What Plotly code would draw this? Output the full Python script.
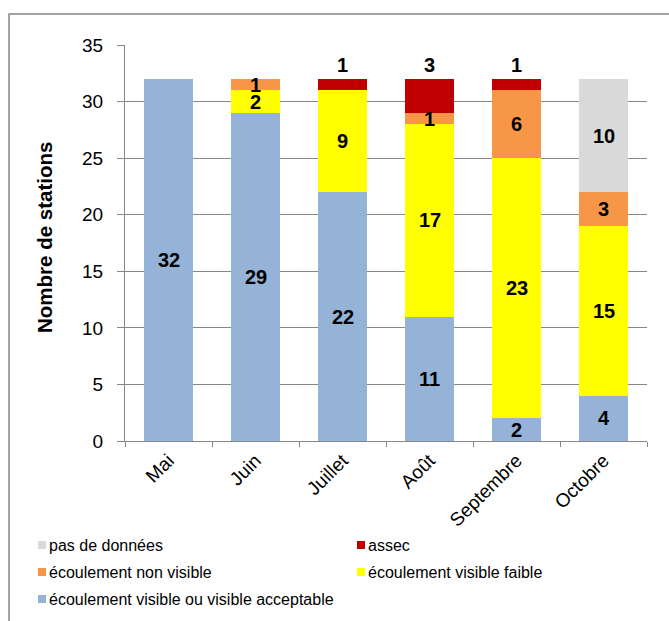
import plotly.graph_objects as go

months = ["Mai", "Juin", "Juillet", "Août", "Septembre", "Octobre"]

visible_acceptable = [32, 29, 22, 11, 2, 4]
visible_faible = [0, 2, 9, 17, 23, 15]
non_visible = [0, 1, 0, 1, 6, 3]
assec = [0, 0, 1, 3, 1, 0]
pas_de_donnees = [0, 0, 0, 0, 0, 10]

series = [
    ("écoulement visible ou visible acceptable", visible_acceptable, "#95B3D7"),
    ("écoulement visible faible", visible_faible, "#FFFF00"),
    ("écoulement non visible", non_visible, "#F79646"),
    ("assec", assec, "#C00000"),
    ("pas de données", pas_de_donnees, "#D9D9D9"),
]

# legend grid: (series name, column, row)
legend_layout = [
    ("pas de données", 0, 0),
    ("assec", 1, 0),
    ("écoulement non visible", 0, 1),
    ("écoulement visible faible", 1, 1),
    ("écoulement visible ou visible acceptable", 0, 2),
]

FONT = "Liberation Sans, Arial, sans-serif"

# plot area geometry in pixels
W, H = 669, 621
L, R, T, B = 125, 22, 45, 180
PW, PH = W - L - R, H - T - B


def px_x(px):
    return (px - L) / PW


def px_y(py):
    return (H - B - py) / PH


fig = go.Figure()
for name, vals, color in series:
    fig.add_trace(go.Bar(
        x=months, y=vals, name=name,
        marker=dict(color=color, line=dict(width=0)),
        width=0.565, showlegend=False,
    ))

# value labels: centred in each segment, "assec" labels sit above the stack
annotations = []
base = [0] * len(months)
totals = [sum(s[1][i] for s in series) for i in range(len(months))]
for name, vals, color in series:
    for i, v in enumerate(vals):
        if v > 0:
            y = totals[i] + 1.2 if name == "assec" else base[i] + v / 2
            annotations.append(dict(
                x=months[i], y=y, text=f"<b>{v}</b>", showarrow=False,
                font=dict(family=FONT, size=20, color="black"),
                xref="x", yref="y",
            ))
        base[i] += v

annotations.append(dict(
    x=px_x(44), y=px_y(238), xref="paper", yref="paper", xanchor="center", yanchor="middle",
    text="<b>Nombre de stations</b>", textangle=-90, showarrow=False,
    font=dict(family=FONT, size=20.5, color="black"),
))

# legend drawn as coloured squares with text beside them
colors = {name: color for name, _, color in series}
shapes = []
col_x = [38, 357]
row_y = [545, 572, 599]
for name, col, row in legend_layout:
    x0, yc = col_x[col], row_y[row]
    shapes.append(dict(
        type="rect", xref="paper", yref="paper",
        x0=px_x(x0), x1=px_x(x0 + 8), y0=px_y(yc + 4), y1=px_y(yc - 4),
        line=dict(width=0), fillcolor=colors[name],
    ))
    annotations.append(dict(
        x=px_x(x0 + 9), y=px_y(yc), xref="paper", yref="paper",
        xanchor="left", yanchor="middle", text=name, showarrow=False,
        font=dict(family=FONT, size=16, color="black"),
    ))

# outer frame
shapes.append(dict(
    type="rect", xref="paper", yref="paper",
    x0=px_x(9), x1=px_x(W + 5), y0=px_y(H + 5), y1=px_y(14),
    line=dict(color="#868686", width=1.5), fillcolor="rgba(0,0,0,0)", layer="below",
))

fig.update_layout(
    barmode="stack",
    width=W, height=H,
    margin=dict(l=L, r=R, t=T, b=B),
    plot_bgcolor="white", paper_bgcolor="white",
    font=dict(family=FONT, color="black"),
    annotations=annotations,
    shapes=shapes,
    showlegend=False,
    xaxis=dict(
        tickson="boundaries", ticks="outside", ticklen=5, tickcolor="#868686",
        showline=True, linecolor="#868686", linewidth=1,
        tickangle=-45, tickfont=dict(family=FONT, size=19, color="black"),
        showgrid=False,
    ),
    yaxis=dict(
        range=[0, 35], dtick=5, ticks="outside", ticklen=7, tickcolor="#868686",
        ticklabelstandoff=10,
        showline=True, linecolor="#868686", linewidth=1,
        showgrid=True, gridcolor="#868686", gridwidth=1,
        tickfont=dict(family=FONT, size=19, color="black"),
        zeroline=False,
    ),
)

fig.write_html("out.html")
